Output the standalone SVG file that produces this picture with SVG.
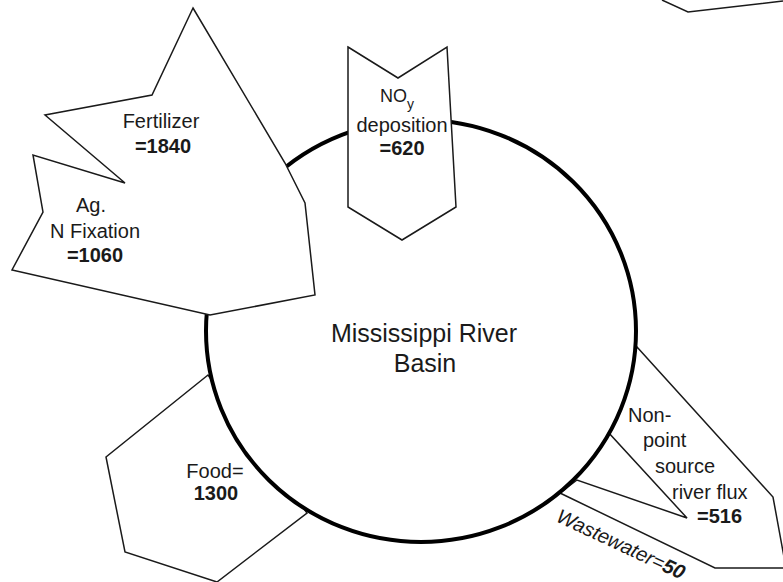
<svg xmlns="http://www.w3.org/2000/svg" width="783" height="582" viewBox="0 0 783 582">
<style>
.shape{fill:#fff;stroke:#1a1a1a;stroke-width:1.5;stroke-linejoin:miter}
.basin{fill:#fff;stroke:#000;stroke-width:4}
text{font-family:"Liberation Sans",Arial,sans-serif;font-size:20px;fill:#1a1a1a}
.c{text-anchor:middle}
.b{font-weight:bold}
.big{font-size:25px}
</style>
<rect width="783" height="582" fill="#fff"/>
<g id="food">
<polygon class="shape" points="208,375 106,457 125,552 217,582 307,513"/>
</g>
<g id="nonpoint">
<polygon class="shape" points="637,347 773,497 786,568 715,568 560,493 577,480 687,518 608,432"/>
</g>
<g id="basin">
<ellipse class="basin" cx="421" cy="331" rx="215" ry="211"/>
</g>
<g id="fertilizer">
<polygon class="shape" points="193,8 285,163 305,203 315,295 210,315 12,270 43,212 33,155 125,183 45,115 152,95"/>
</g>
<g id="noy">
<polygon class="shape" points="348,47 398,78 447,47 456,207 402,240 348,207"/>
</g>
<g id="topright">
<polyline fill="none" stroke="#1a1a1a" stroke-width="1.5" points="662,0 688,12 783,1"/>
</g>
<g id="labels">
<text class="c big" x="424" y="342">Mississippi River</text>
<text class="c big" x="425" y="372">Basin</text>
<text class="c" x="161" y="128">Fertilizer</text>
<text class="c b" x="163" y="153">=1840</text>
<text class="c" x="91" y="212">Ag.</text>
<text class="c" x="95" y="238">N Fixation</text>
<text class="c b" x="95" y="262">=1060</text>
<text x="380" y="102" style="font-size:18px">NO<tspan dy="7" style="font-size:14px">y</tspan></text>
<text class="c" x="402" y="132">deposition</text>
<text class="c b" x="402" y="155">=620</text>
<text class="c" x="215" y="478">Food=</text>
<text class="c b" x="216" y="500">1300</text>
<text x="628" y="422">Non-</text>
<text x="643" y="447">point</text>
<text x="655" y="473">source</text>
<text x="672" y="499">river flux</text>
<text class="b" x="697" y="523">=516</text>
<text x="555" y="521" transform="rotate(25 555 521)" style="font-style:italic">Wastewater=<tspan class="b">50</tspan></text>
</g>
</svg>
